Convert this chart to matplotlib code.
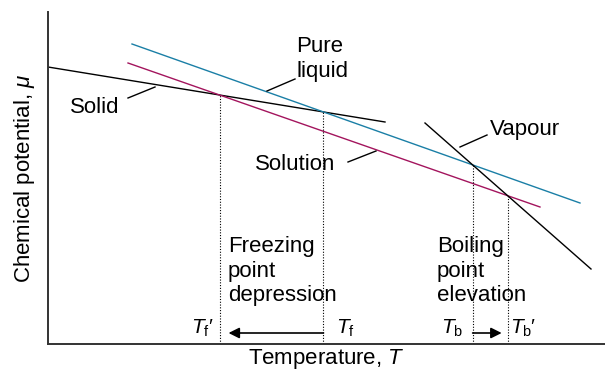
import matplotlib
matplotlib.use("Agg")
import matplotlib.pyplot as plt
import numpy as np

plt.rcParams["font.family"] = ["Liberation Sans", "DejaVu Sans"]
plt.rcParams["mathtext.fontset"] = "custom"
plt.rcParams["mathtext.rm"] = "Liberation Sans"
plt.rcParams["mathtext.it"] = "Liberation Sans:italic"

# chemical potential lines (temperature, mu) end points, arbitrary units
solid_T = [0, 337]
solid_mu = [277, 222]
liquid_T = [84, 532]
liquid_mu = [300, 141]
solution_T = [80, 492]
solution_mu = [281, 137]
vapour_T = [377, 543]
vapour_mu = [221, 75]

BLUE = "#1a7fa6"
MAGENTA = "#a3145d"


def line_coef(T, mu):
    m = (mu[1] - mu[0]) / (T[1] - T[0])
    return m, mu[0] - m * T[0]


def crossing(a, b):
    m1, c1 = line_coef(*a)
    m2, c2 = line_coef(*b)
    x = (c2 - c1) / (m1 - m2)
    return x, m1 * x + c1


solid = (solid_T, solid_mu)
liquid = (liquid_T, liquid_mu)
solution = (solution_T, solution_mu)
vapour = (vapour_T, vapour_mu)

Tf, mu_f = crossing(solid, liquid)
Tf2, mu_f2 = crossing(solid, solution)
Tb, mu_b = crossing(vapour, liquid)
Tb2, mu_b2 = crossing(vapour, solution)

fig = plt.figure(figsize=(6.05, 3.70), dpi=100)
ax = fig.add_axes([48 / 605, 26 / 370, 557 / 605, 332 / 370])
ax.set_xlim(0, 557)
ax.set_ylim(0, 332)

ax.plot(solid_T, solid_mu, color="black", lw=1.0)
ax.plot(liquid_T, liquid_mu, color=BLUE, lw=1.0)
ax.plot(solution_T, solution_mu, color=MAGENTA, lw=1.0)
ax.plot(vapour_T, vapour_mu, color="black", lw=1.0)

# dotted drop lines from the crossings
for x, y in [(Tf, mu_f), (Tf2, mu_f2), (Tb, mu_b), (Tb2, mu_b2)]:
    ax.plot([x, x], [0, y], color="black", lw=0.8, ls=(0, (1, 1.5)))

fs = 16
# labels with leader lines
ax.text(47, 236, "Solid", fontsize=fs, ha="center", va="center")
ax.plot([80, 107], [246, 257], color="black", lw=1.0)
ax.text(248, 285, "Pure\nliquid", fontsize=fs, ha="left", va="center")
ax.plot([219, 247], [253, 265], color="black", lw=1.0)
ax.text(207, 179, "Solution", fontsize=fs, ha="left", va="center")
ax.plot([300, 328], [182, 193], color="black", lw=1.0)
ax.text(442, 214, "Vapour", fontsize=fs, ha="left", va="center")
ax.plot([412, 439], [197, 209], color="black", lw=1.0)

ax.text(180, 73, "Freezing\npoint\ndepression", fontsize=fs, ha="left", va="center")
ax.text(389, 73, "Boiling\npoint\nelevation", fontsize=fs, ha="left", va="center")

# temperature markers on the axis
fs_t = 15
ax.text(Tf2 - 10, 16, r"$T_{\mathrm{f}}$", fontsize=fs_t, ha="right", va="center")
ax.text(Tf2 - 12, 26, "\u2032", fontsize=fs_t, ha="left", va="top", style="italic")
ax.text(Tf + 13, 16, r"$T_{\mathrm{f}}$", fontsize=fs_t, ha="left", va="center")
ax.text(Tb - 9, 16, r"$T_{\mathrm{b}}$", fontsize=fs_t, ha="right", va="center")
ax.text(Tb2 + 2, 16, r"$T_{\mathrm{b}}$", fontsize=fs_t, ha="left", va="center")
ax.text(Tb2 + 21, 26, "\u2032", fontsize=fs_t, ha="left", va="top", style="italic")

arrow = dict(arrowstyle="-|>", mutation_scale=16, lw=1.2, color="black",
             shrinkA=0, shrinkB=0)
ax.annotate("", xy=(Tf2 + 9, 11), xytext=(Tf, 11), arrowprops=arrow)
ax.annotate("", xy=(Tb2 - 6, 11), xytext=(Tb, 11), arrowprops=arrow)

ax.set_xlabel("Temperature, $T$", fontsize=fs, labelpad=2)
ax.set_ylabel(r"Chemical potential, $\mu$", fontsize=fs, labelpad=8)
ax.set_xticks([])
ax.set_yticks([])
ax.spines["top"].set_visible(False)
ax.spines["right"].set_visible(False)
for s in ["left", "bottom"]:
    ax.spines[s].set_linewidth(1.4)
    ax.spines[s].set_color("#333333")

fig.savefig("out.png", dpi=100)
